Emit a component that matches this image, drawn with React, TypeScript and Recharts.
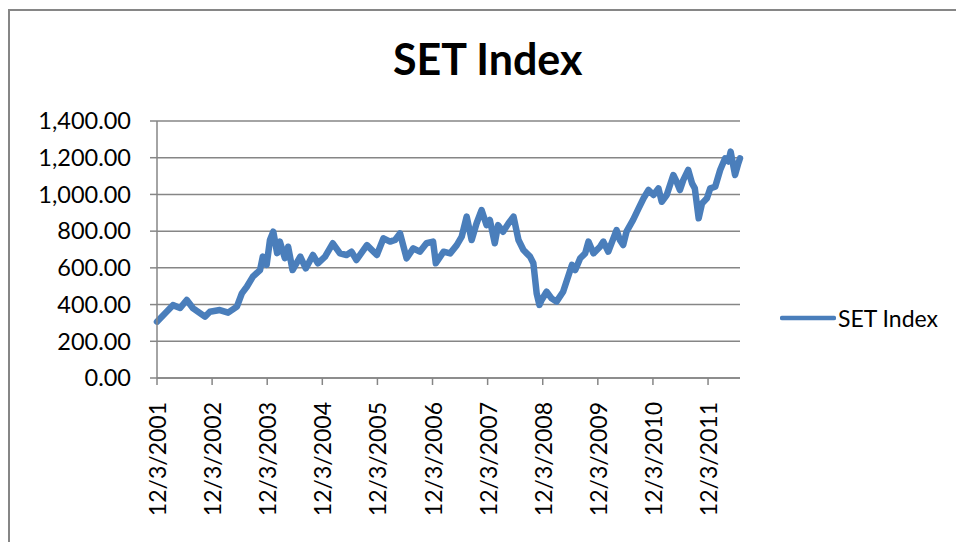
import { LineChart, Line, XAxis, YAxis, CartesianGrid, Legend } from 'recharts';

// years elapsed since 12/3/2001
const yearsSinceStart = [
  0, 0.24, 0.29, 0.42, 0.54, 0.65, 0.87, 0.96, 1.14, 1.29,
  1.45, 1.54, 1.63, 1.74, 1.87, 1.92, 1.99, 2.05, 2.11, 2.18,
  2.23, 2.32, 2.38, 2.46, 2.6, 2.7, 2.83, 2.92, 3.05, 3.19,
  3.32, 3.44, 3.53, 3.62, 3.81, 3.99, 4.11, 4.23, 4.32, 4.41,
  4.53, 4.65, 4.77, 4.89, 5.01, 5.06, 5.2, 5.32, 5.44, 5.53,
  5.62, 5.71, 5.8, 5.89, 5.98, 6.04, 6.13, 6.19, 6.28, 6.38,
  6.47, 6.56, 6.65, 6.71, 6.77, 6.83, 6.89, 6.94, 6.98, 7.07,
  7.16, 7.25, 7.37, 7.46, 7.53, 7.59, 7.68, 7.77, 7.83, 7.92,
  8.04, 8.1, 8.19, 8.34, 8.4, 8.46, 8.52, 8.64, 8.74, 8.83,
  8.92, 9.01, 9.1, 9.16, 9.25, 9.37, 9.43, 9.49, 9.55, 9.64,
  9.71, 9.76, 9.83, 9.89, 9.98, 10.04, 10.13, 10.22, 10.31, 10.37,
  10.41, 10.49, 10.55, 10.58,
];

const setIndex = [
  307, 381, 397, 381, 425, 381, 334, 361, 370, 356,
  389, 461, 497, 552, 588, 661, 616, 752, 797, 680,
  743, 653, 715, 588, 661, 597, 670, 625, 661, 734,
  679, 670, 688, 643, 724, 670, 761, 743, 752, 788,
  652, 706, 688, 734, 743, 625, 688, 679, 724, 770,
  879, 752, 843, 915, 833, 861, 734, 833, 797, 843,
  879, 752, 697, 679, 661, 625, 461, 398, 425, 470,
  434, 416, 470, 552, 616, 588, 652, 679, 743, 679,
  715, 743, 688, 806, 752, 724, 797, 861, 924, 979,
  1024, 997, 1033, 960, 997, 1106, 1069, 1024, 1078, 1133,
  1060, 1033, 870, 951, 979, 1033, 1042, 1133, 1197, 1179,
  1233, 1106, 1170, 1197,
];

const xTicks = [0, 1, 2, 3, 4, 5, 6, 7, 8, 9, 10];
const xTickLabels = ['12/3/2001', '12/3/2002', '12/3/2003', '12/3/2004', '12/3/2005', '12/3/2006', '12/3/2007', '12/3/2008', '12/3/2009', '12/3/2010', '12/3/2011'];
const yTicks = [0, 200, 400, 600, 800, 1000, 1200, 1400];

const data = yearsSinceStart.map((t, i) => ({ t, value: setIndex[i] }));

const FONT = 'Lato, "Open Sans", sans-serif';
const GRID = '#868686';
const BLUE = '#4a7ebb';

const fmtY = (v: number) => v.toLocaleString('en-US', { minimumFractionDigits: 2, maximumFractionDigits: 2 });

function XTick({ x, y, payload }: any) {
  const label = xTickLabels[xTicks.indexOf(payload.value)] ?? '';
  return (
    <text transform={`translate(${x},${y}) rotate(-90)`} textAnchor="end" dominantBaseline="central" fill="#000" fontSize={23} fontFamily={FONT}>
      {label}
    </text>
  );
}

function LegendBox() {
  return (
    <div style={{ display: 'flex', alignItems: 'center', paddingLeft: 40, fontFamily: FONT, fontSize: 23, color: '#000' }}>
      <svg width={56} height={8}><line x1={2} y1={4} x2={54} y2={4} stroke={BLUE} strokeWidth={4.5} strokeLinecap="round" /></svg>
      <span style={{ marginLeft: 2 }}>SET Index</span>
    </div>
  );
}

export default function App() {
  return (
    <div>
      <style>{'body{margin:0;overflow:hidden}'}</style>
      <div style={{ position: 'absolute', left: 8, top: 9, width: 950, height: 535, borderLeft: `2px solid ${GRID}`, borderTop: `2px solid ${GRID}`, background: '#fff' }}>
        <div style={{ position: 'absolute', left: 383, top: 22, fontFamily: FONT, fontWeight: 700, fontSize: 43, color: '#000', whiteSpace: 'nowrap' }}>
          SET Index
        </div>
        <LineChart width={946} height={531} data={data} margin={{ top: 110, right: 0, bottom: 14, left: 0 }}>
          <CartesianGrid vertical={false} stroke={GRID} strokeWidth={1.5} />
          <XAxis dataKey="t" type="number" domain={[0, 10.58]} ticks={xTicks} interval={0} tick={<XTick />} tickSize={7} tickMargin={17} height={150} stroke={GRID} strokeWidth={1.5} tickLine={{ stroke: GRID, strokeWidth: 1.5 }} />
          <YAxis domain={[0, 1400]} ticks={yTicks} tickFormatter={fmtY} width={147} tickSize={7} tickMargin={19} stroke={GRID} strokeWidth={1.5} tick={{ fill: '#000', fontSize: 23.5, fontFamily: FONT }} />
          <Legend layout="vertical" align="right" verticalAlign="top" content={<LegendBox />} wrapperStyle={{ top: 293, right: 0, width: 216 }} />
          <Line dataKey="value" name="SET Index" type="linear" stroke={BLUE} strokeWidth={6.5} strokeLinejoin="round" strokeLinecap="round" dot={false} isAnimationActive={false} />
        </LineChart>
      </div>
    </div>
  );
}
